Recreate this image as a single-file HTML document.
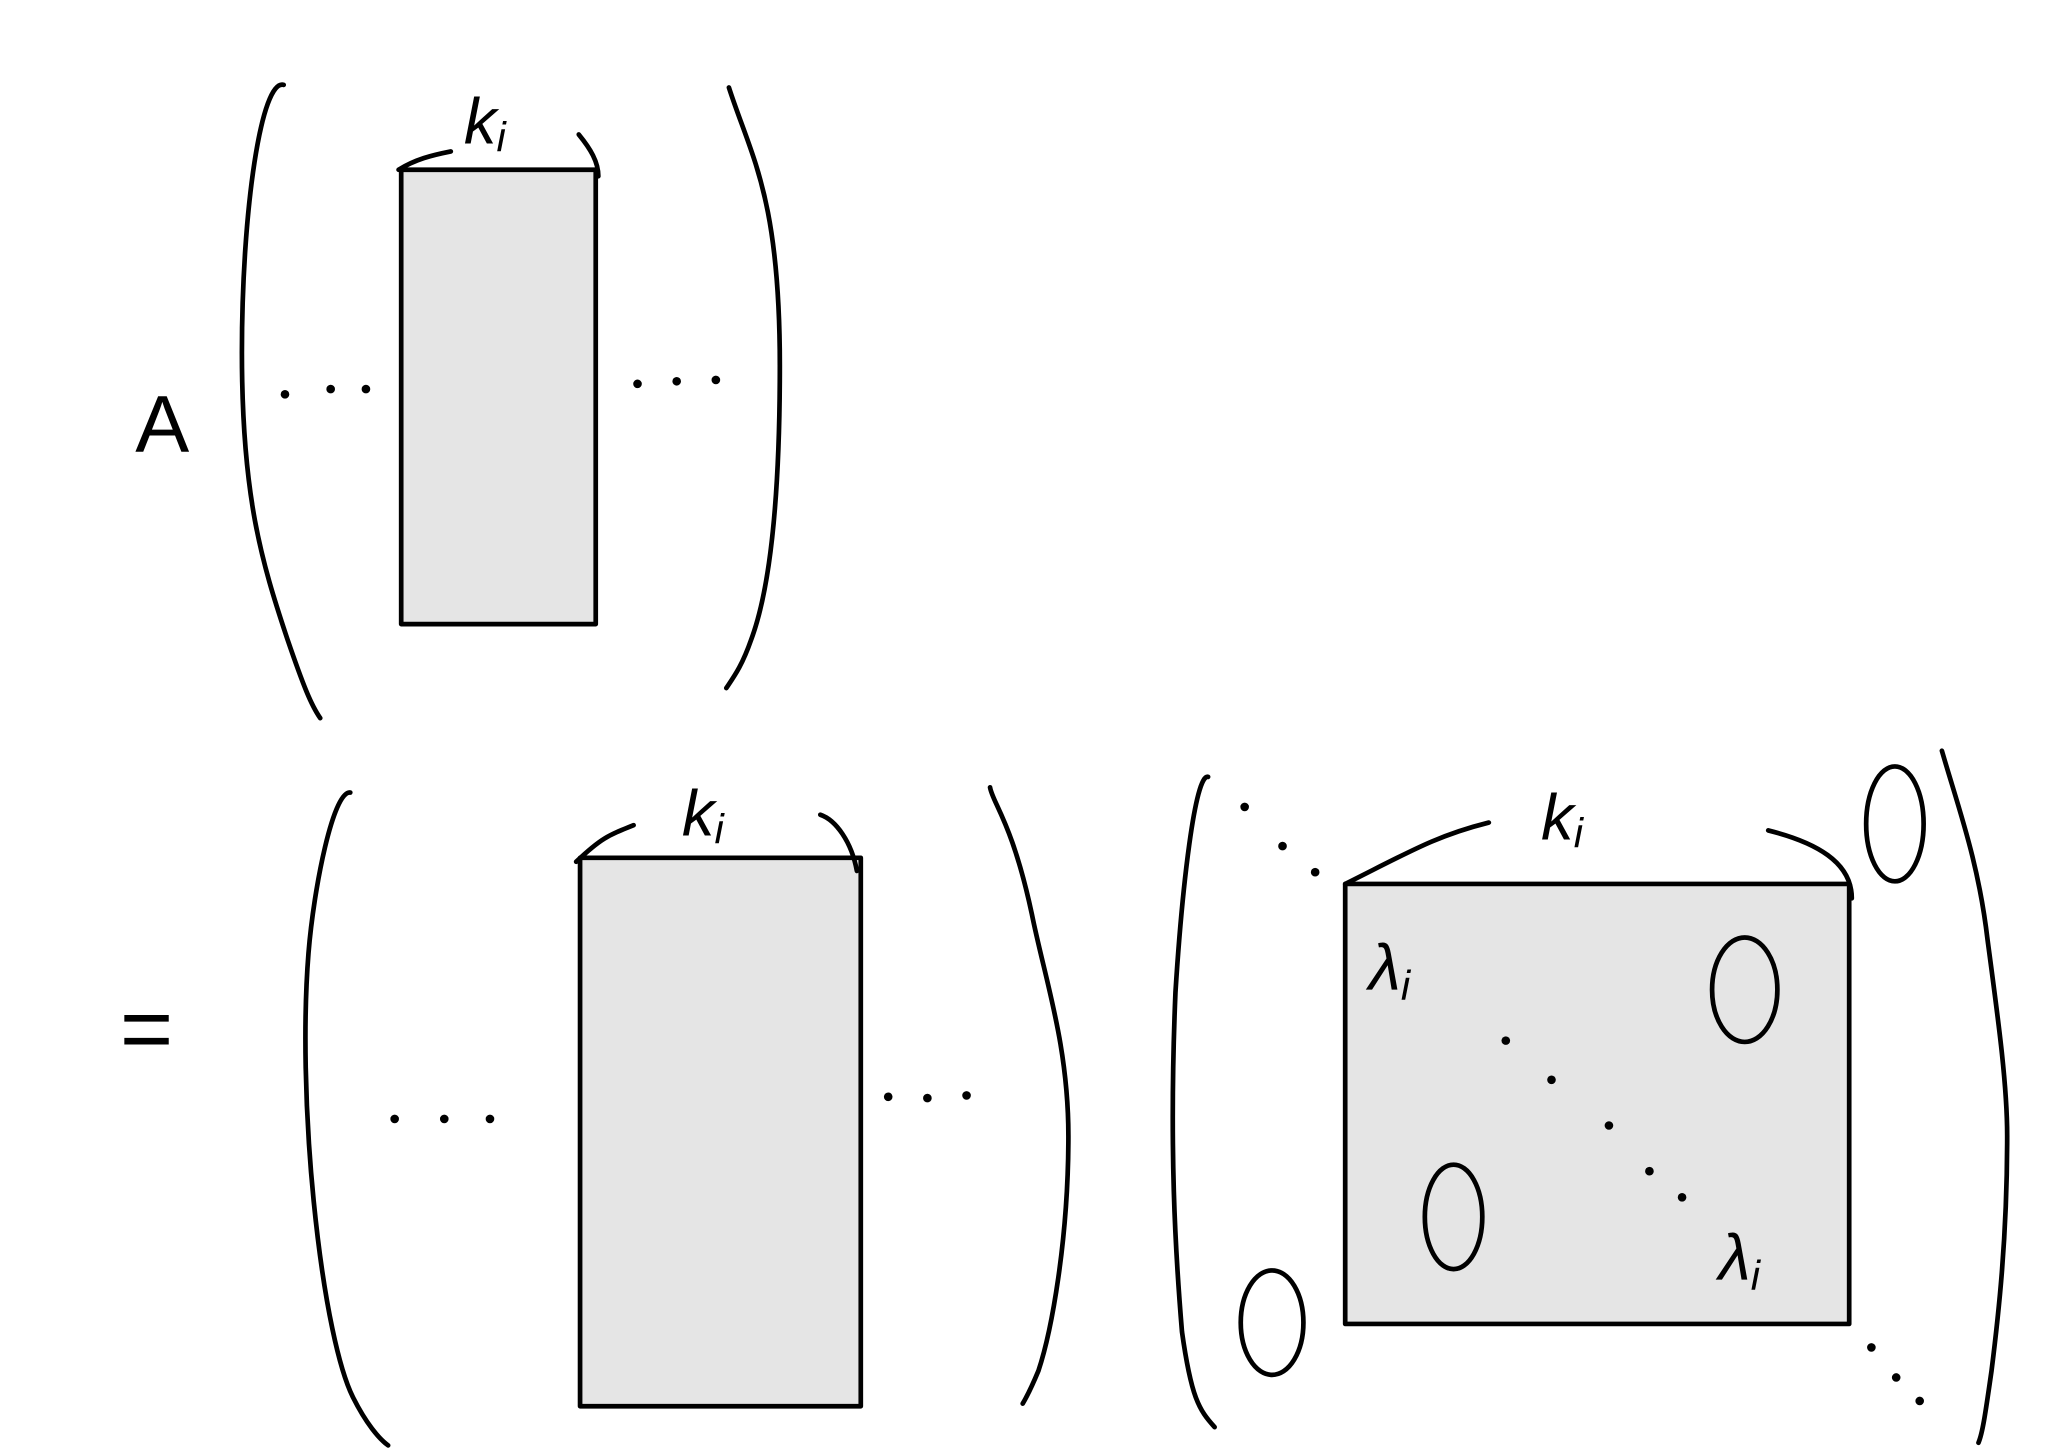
<!DOCTYPE html>
<html><head><meta charset="utf-8"><style>
html,body{margin:0;padding:0;background:#fff;}
svg{display:block;}
text{font-family:"Liberation Sans",sans-serif;fill:#000;}
</style></head><body>
<svg width="2048" height="1448" viewBox="0 0 1568 1109" xmlns="http://www.w3.org/2000/svg">
<g fill="none" stroke="#000" stroke-width="3.6" stroke-linecap="round" stroke-linejoin="round">
<path d="M217,65 C200,60 185,160 185,270 C185,380 200,430 220,490 C232,525 238,540 245,550"/>
<path d="M558,67 C575,120 597,150 597,280 C597,380 590,450 575,490 C568,510 562,518 556,527"/>
<rect x="307" y="130" width="149" height="348" fill="#e5e5e5"/>
<path d="M305,130 C318,122 330,119 345,116"/>
<path d="M443,103 C452,114 458,124 458,135"/>
<path d="M268,607 C255,605 240,680 236,730 C232,780 233,850 240,920 C248,1000 260,1050 270,1070 C280,1090 290,1102 297,1107"/>
<path d="M758,603 C760,615 775,630 790,700 C800,750 818,800 818,870 C818,950 805,1020 795,1050 C790,1062 786,1070 783,1075"/>
<rect x="444" y="657" width="215" height="420" fill="#e5e5e5"/>
<path d="M441,660 C460,642 465,640 485,632"/>
<path d="M628,624 C640,628 652,645 656,667"/>
<path d="M925,595 C915,592 905,680 900,760 C895,880 900,960 905,1020 C912,1070 918,1080 930,1093"/>
<path d="M1487,575 C1500,620 1515,660 1522,720 C1530,780 1537,830 1537,870 C1537,950 1530,1010 1525,1050 C1520,1085 1518,1098 1515,1105"/>
<rect x="1030" y="677" width="386" height="337" fill="#e5e5e5"/>
<path d="M1030,677 C1080,652 1100,640 1140,630"/>
<path d="M1354,636 C1390,645 1418,660 1418,688"/>
</g>
<g font-size="62" text-anchor="middle">
<text x="124" y="346">A</text>
<text x="112" y="812" font-size="70">=</text>
</g>
<g font-size="50" font-style="italic">
<text x="355" y="110">k<tspan font-size="32" dy="6">i</tspan></text>
<text x="522" y="640">k<tspan font-size="32" dy="6">i</tspan></text>
<text x="1180" y="643">k<tspan font-size="32" dy="6">i</tspan></text>
<text x="1048" y="758">λ<tspan font-size="32" dy="8">i</tspan></text>
<text x="1316" y="980">λ<tspan font-size="32" dy="8">i</tspan></text>
</g>
<g fill="none" stroke="#000" stroke-width="3.6">
<ellipse cx="1336" cy="758" rx="25" ry="40"/>
<ellipse cx="1113" cy="932" rx="22" ry="40"/>
<ellipse cx="1451" cy="631" rx="22" ry="44"/>
<ellipse cx="974" cy="1013" rx="24" ry="40"/>
</g>
<g fill="#000">
<circle cx="218" cy="302" r="3.3"/><circle cx="253" cy="298" r="3.3"/><circle cx="280" cy="298" r="3.3"/>
<circle cx="488" cy="294" r="3.3"/><circle cx="518" cy="292" r="3.3"/><circle cx="548" cy="291" r="3.3"/>
<circle cx="302" cy="857" r="3.3"/><circle cx="340" cy="857" r="3.3"/><circle cx="375" cy="857" r="3.3"/>
<circle cx="680" cy="840" r="3.3"/><circle cx="710" cy="841" r="3.3"/><circle cx="740" cy="839" r="3.3"/>
<circle cx="953" cy="618" r="3.3"/><circle cx="982" cy="648" r="3.3"/><circle cx="1007" cy="668" r="3.3"/>
<circle cx="1153" cy="797" r="3.3"/><circle cx="1188" cy="827" r="3.3"/><circle cx="1232" cy="862" r="3.3"/><circle cx="1263" cy="897" r="3.3"/><circle cx="1288" cy="917" r="3.3"/>
<circle cx="1433" cy="1032" r="3.3"/><circle cx="1452" cy="1055" r="3.3"/><circle cx="1470" cy="1073" r="3.3"/>
</g>
</svg>
</body></html>
